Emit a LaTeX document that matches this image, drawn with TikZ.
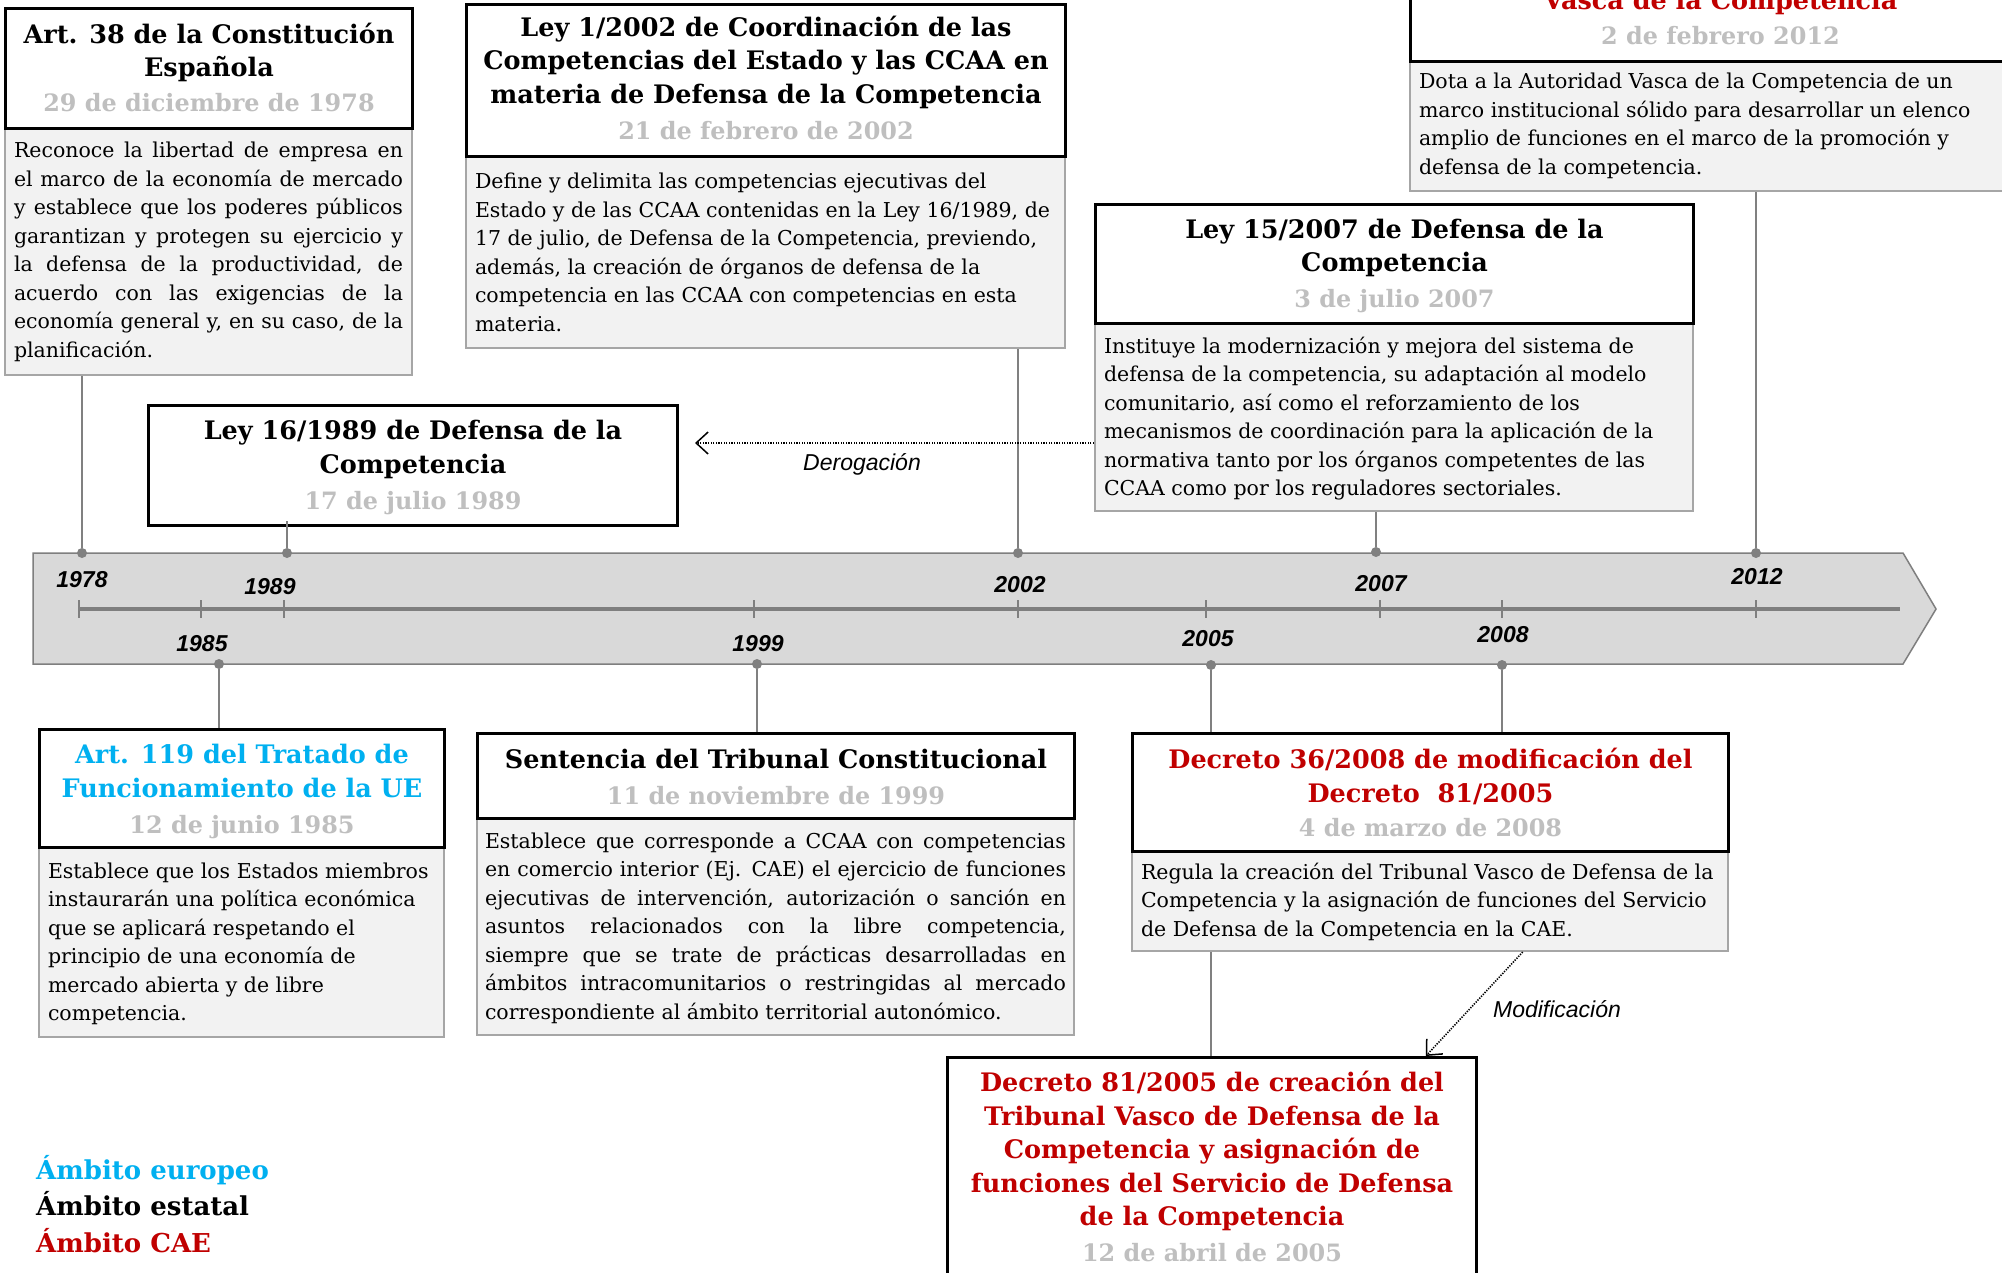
\documentclass[tikz,border=0pt]{standalone}
\usepackage{fontspec}
\setmainfont{DejaVu Serif}
\newfontfamily\labelfont{Liberation Sans}
\usetikzlibrary{arrows.meta,calc}
\definecolor{cRed}{HTML}{C00000}
\definecolor{cCyan}{HTML}{00B0F0}
\definecolor{cDate}{HTML}{BFBFBF}
\definecolor{cBody}{HTML}{F2F2F2}
\definecolor{cBodyLine}{HTML}{A6A6A6}
\definecolor{cBar}{HTML}{D9D9D9}
\definecolor{cBarLine}{HTML}{7F7F7F}
\definecolor{cConn}{HTML}{808080}
\pgfdeclarelayer{bg}
\pgfsetlayers{bg,main}
\newcommand\JL[1]{\hbox to \linewidth{#1}}
\newcommand\RL[1]{\hbox to \linewidth{#1\hfil}}
\newcommand\CL[1]{\hbox to \linewidth{\hfil#1\hfil}}
\newcommand\TitleFont{\bfseries\fontsize{25.5}{33.5}\selectfont}
\newcommand\BodyFont{\fontsize{20.5}{28.5}\selectfont}
\newcommand\HBox[3]{\parbox[t][#2pt][t]{#1pt}{\TitleFont #3}}
\newcommand\BBox[3]{\parbox[t][#2pt][t]{#1pt}{\BodyFont #3}}
\newcommand\Dt[1]{\fontsize{23.9}{33.5}\selectfont\color{cDate}#1}
\begin{document}
\begin{tikzpicture}[x=1pt,y=-1pt,
 hdr/.style={draw=black,line width=3pt,fill=white,inner sep=0pt,anchor=north west},
 bdy/.style={draw=cBodyLine,line width=2pt,fill=cBody,inner xsep=9pt,inner ysep=0pt,anchor=north west},
 conn/.style={draw=cConn,line width=2pt},
 dot/.style={circle,fill=cConn,inner sep=0pt,minimum size=10pt},
 tick/.style={draw=cBarLine,line width=2pt},
 yr/.style={font=\labelfont\bfseries\itshape\fontsize{23}{26}\selectfont,inner sep=0pt},
 rel/.style={draw=black,line width=1.6pt,dash pattern=on 1.3pt off 1.3pt,-{Straight Barb[length=12pt,width=22pt,line width=1.5pt]}},
 rellbl/.style={font=\labelfont\itshape\fontsize{23}{26}\selectfont,inner sep=0pt,anchor=base},
 legend/.style={font=\bfseries\fontsize{26}{30}\selectfont,inner sep=0pt,anchor=base west}]
\useasboundingbox (0,0) rectangle (2002,1273);

% background and timeline bar
\begin{pgfonlayer}{bg}
\fill[white] (0,0) rectangle (2002,1273);
\path[fill=cBar,draw=cBarLine,line width=1.5pt] (33,553) -- (1903,553) -- (1936,609) -- (1903,664) -- (33,664) -- cycle;
\draw[draw=cBarLine,line width=3.5pt] (79,609) -- (1900,609);
\foreach \x/\n in {79/t78,201/t85,284/t89,754/t99,1018/t02,1206/t05,1380/t07,1502/t08,1756/t12}{
  \draw[tick] (\x,600) -- (\x,618);
  \coordinate (\n) at (\x,609);
}
\end{pgfonlayer}

% dots
\node[dot] (d78) at (82,553) {};
\node[dot] (d89) at (287,553) {};
\node[dot] (d02) at (1018,553) {};
\node[dot] (d07) at (1376,552) {};
\node[dot] (d12) at (1756,553) {};
\node[dot] (d85) at (219,664) {};
\node[dot] (d99) at (757,664) {};
\node[dot] (d05) at (1211,665) {};
\node[dot] (d08) at (1502,665) {};

% year labels
\node[yr] (y78) at (82,580) {1978};
\node[yr] (y89) at (270,587) {1989};
\node[yr] (y02) at (1020,585) {2002};
\node[yr] (y07) at (1381,584) {2007};
\node[yr] (y12) at (1757,577) {2012};
\node[yr] (y85) at (202,644) {1985};
\node[yr] (y99) at (758,644) {1999};
\node[yr] (y05) at (1208,639) {2005};
\node[yr] (y08) at (1503,635) {2008};

% ---- Art. 38
\node[bdy] (Ab) at (4,127) {\BBox{389}{247}{%
\JL{\rule{0pt}{30pt}Reconoce la libertad de empresa en}
\JL{el marco de la economía de mercado}
\JL{y establece que los poderes públicos}
\JL{garantizan y protegen su ejercicio y}
\JL{la defensa de la productividad, de}
\JL{acuerdo con las exigencias de la}
\JL{economía general y, en su caso, de la}
\RL{planificación.}}};
\node[hdr] (A) at (4,7) {\HBox{407}{120}{%
\CL{\rule{0pt}{35pt}Art. 38 de la Constitución}
\CL{Española}\vspace{1.5pt}
\CL{\Dt{29 de diciembre de 1978}}}};

% ---- Ley 1/2002
\node[bdy] (Bb) at (465,155) {\BBox{581}{192}{%
\RL{\rule{0pt}{33pt}Define y delimita las competencias ejecutivas del}
\RL{Estado y de las CCAA contenidas en la Ley 16/1989, de}
\RL{17 de julio, de Defensa de la Competencia, previendo,}
\RL{además, la creación de órganos de defensa de la}
\RL{competencia en las CCAA con competencias en esta}
\RL{materia.}}};
\node[hdr] (B) at (465,3) {\HBox{599}{152}{%
\CL{\rule{0pt}{32pt}Ley 1/2002 de Coordinación de las}
\CL{Competencias del Estado y las CCAA en}
\CL{materia de Defensa de la Competencia}\vspace{2.5pt}
\CL{\Dt{21 de febrero de 2002}}}};

% ---- 2012 (top right)
\node[bdy] (Cb) at (1409,60) {\BBox{602}{130}{%
\RL{\rule{0pt}{28pt}Dota a la Autoridad Vasca de la Competencia de un}
\RL{marco institucional sólido para desarrollar un elenco}
\RL{amplio de funciones en el marco de la promoción y}
\RL{defensa de la competencia.}}};
\node[hdr] (C) at (1409,-150) {\HBox{620}{210}{%
\CL{\rule{0pt}{158pt}\color{cRed}Vasca de la Competencia}\vspace{1.5pt}
\CL{\Dt{2 de febrero 2012}}}};

% ---- Ley 15/2007
\node[bdy] (Db) at (1094,322) {\BBox{580}{188}{%
\RL{\rule{0pt}{30pt}Instituye la modernización y mejora del sistema de}
\RL{defensa de la competencia, su adaptación al modelo}
\RL{comunitario, así como el reforzamiento de los}
\RL{mecanismos de coordinación para la aplicación de la}
\RL{normativa tanto por los órganos competentes de las}
\RL{CCAA como por los reguladores sectoriales.}}};
\node[hdr] (D) at (1094,203) {\HBox{598}{119}{%
\CL{\rule{0pt}{34pt}Ley 15/2007 de Defensa de la}
\CL{Competencia}\vspace{2.5pt}
\CL{\Dt{3 de julio 2007}}}};

% ---- Ley 16/1989
\node[hdr] (E) at (147,404) {\HBox{529}{120}{%
\CL{\rule{0pt}{34pt}Ley 16/1989 de Defensa de la}
\CL{Competencia}\vspace{3pt}
\CL{\Dt{17 de julio 1989}}}};

% ---- Art. 119
\node[bdy] (Fb) at (38,846) {\BBox{387}{190}{%
\RL{\rule{0pt}{31pt}Establece que los Estados miembros}
\RL{instaurarán una política económica}
\RL{que se aplicará respetando el}
\RL{principio de una economía de}
\RL{mercado abierta y de libre}
\RL{competencia.}}};
\node[hdr] (F) at (38,728) {\HBox{405}{118}{%
\CL{\rule{0pt}{34pt}\color{cCyan}Art. 119 del Tratado de}
\CL{\color{cCyan}Funcionamiento de la UE}\vspace{3pt}
\CL{\Dt{12 de junio 1985}}}};

% ---- Sentencia
\node[bdy,inner xsep=8pt] (Gb) at (476,817) {\BBox{581}{217}{%
\JL{\rule{0pt}{30pt}Establece que corresponde a CCAA con competencias}
\JL{en comercio interior (Ej. CAE) el ejercicio de funciones}
\JL{ejecutivas de intervención, autorización o sanción en}
\JL{asuntos relacionados con la libre competencia,}
\JL{siempre que se trate de prácticas desarrolladas en}
\JL{ámbitos intracomunitarios o restringidas al mercado}
\RL{correspondiente al ámbito territorial autonómico.}}};
\node[hdr] (G) at (476,732) {\HBox{597}{85}{%
\CL{\rule{0pt}{35pt}Sentencia del Tribunal Constitucional}\vspace{2.5pt}
\CL{\Dt{11 de noviembre de 1999}}}};

% ---- Decreto 36/2008
\node[bdy] (Hb) at (1131,850) {\BBox{578}{100}{%
\RL{\rule{0pt}{28pt}Regula la creación del Tribunal Vasco de Defensa de la}
\RL{Competencia y la asignación de funciones del Servicio}
\RL{de Defensa de la Competencia en la CAE.}}};
\node[hdr] (H) at (1131,732) {\HBox{596}{118}{%
\CL{\rule{0pt}{35pt}\color{cRed}Decreto 36/2008 de modificación del}
\CL{\color{cRed}Decreto~~81/2005}\vspace{1pt}
\CL{\Dt{4 de marzo de 2008}}}};

% ---- Decreto 81/2005
\node[hdr] (I) at (946,1056) {\HBox{529}{240}{%
\CL{\rule{0pt}{34pt}\color{cRed}Decreto 81/2005 de creación del}
\CL{\color{cRed}Tribunal Vasco de Defensa de la}
\CL{\color{cRed}Competencia y asignación de}
\CL{\color{cRed}funciones del Servicio de Defensa}
\CL{\color{cRed}de la Competencia}\vspace{2.5pt}
\CL{\Dt{12 de abril de 2005}}}};

% connectors
\begin{pgfonlayer}{bg}
\draw[conn] (Ab.south -| d78) -- (d78);
\draw[conn] (Bb.south -| d02) -- (d02);
\draw[conn] (Cb.south -| d12) -- (d12);
\draw[conn] (Db.south -| d07) -- (d07);
\draw[conn] (d85) -- (F.north -| d85);
\draw[conn] (d99) -- (G.north -| d99);
\draw[conn] (d08) -- (H.north -| d08);
\draw[conn] (d05) -- (I.north -| d05);
\end{pgfonlayer}
\draw[conn] ($(E.south -| d89)+(0,-6)$) -- (d89);

% relations
\coordinate (derogEnd) at (695,443);
\draw[rel] (Db.west |- derogEnd) -- (derogEnd);
\node[rellbl] (derogLbl) at (862,470) {Derogación};
\draw[rel] ($(Hb.south west)!0.655!(Hb.south east)$) -- ($(I.north west)!0.902!(I.north east)$);
\node[rellbl] (modLbl) at (1557,1017) {Modificación};

% legend
\node[legend,text=cCyan] (lg1) at (36,1179) {Ámbito europeo};
\node[legend,text=black] (lg2) at (36,1215) {Ámbito estatal};
\node[legend,text=cRed] (lg3) at (36,1252) {Ámbito CAE};
\end{tikzpicture}
\end{document}
